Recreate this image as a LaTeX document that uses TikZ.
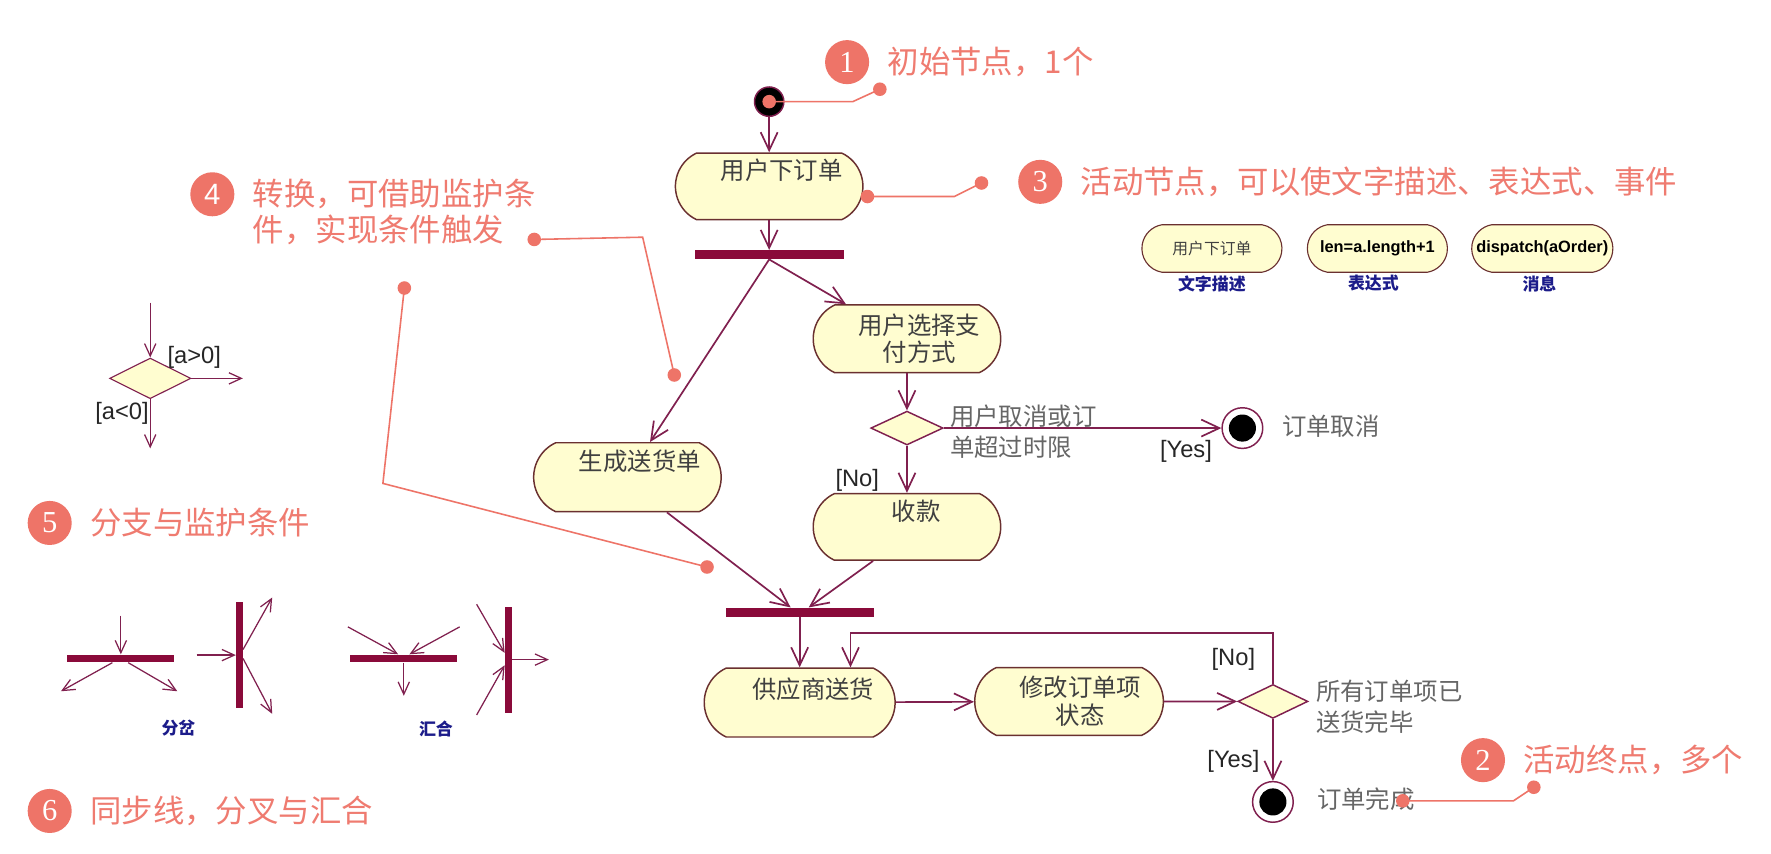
\documentclass[tikz,border=0pt]{standalone}
\usepackage{fontspec}
\setmainfont{Noto Sans CJK SC}
\newfontfamily\latinsans{Liberation Sans}
\newfontfamily\numserif{Liberation Serif}
\usetikzlibrary{arrows.meta, positioning, shapes.misc, shapes.geometric}
\definecolor{actFill}{HTML}{FFFDD0}
\definecolor{actLine}{HTML}{6A3030}
\definecolor{actText}{HTML}{404040}
\definecolor{flowLine}{HTML}{80204F}
\definecolor{barRed}{HTML}{8A0A3A}
\definecolor{noteGray}{HTML}{666666}
\definecolor{tagBlue}{HTML}{1C1C8A}
\definecolor{callRed}{HTML}{EE7468}
\definecolor{callText}{HTML}{EF7B70}
\def\pageW{1568}
\def\pageH{756}
\def\dotR{6pt}

\tikzset{
  act/.style={rounded rectangle, rounded rectangle arc length=130,
              draw=actLine, line width=1.3pt, fill=actFill,
              minimum width=166pt, minimum height=59pt, inner sep=0pt},
  actsmall/.style={act, rounded rectangle arc length=160, line width=1pt,
              minimum width=124pt, minimum height=42pt},
  acttext/.style={align=center, text=actText, inner sep=0pt,
              font=\fontsize{21.6}{24.5}\selectfont},
  syncbar/.style={fill=barRed, draw=none, inner sep=0pt,
              minimum width=132pt, minimum height=8pt},
  decision/.style={diamond, draw=flowLine, fill=actFill, line width=1.3pt,
              minimum width=64pt, minimum height=30pt, inner sep=0pt},
  startnode/.style={circle, fill=black, draw=flowLine, line width=1.3pt,
              minimum size=26pt, inner sep=0pt},
  endnode/.style={circle, draw=flowLine, fill=white, line width=1.3pt,
              minimum size=36pt, inner sep=0pt,
              path picture={\fill[black] (path picture bounding box.center) circle (12pt);}},
  flow/.style={draw=flowLine, line width=1.5pt,
              -{Straight Barb[length=16pt, width=15pt]}},
  flowthin/.style={draw=flowLine, line width=1.1pt,
              -{Straight Barb[length=11pt, width=10pt]}},
  guard/.style={font=\latinsans\fontsize{21}{24}\selectfont,
              text=black!85, inner sep=0pt},
  grayNote/.style={font=\fontsize{21.6}{27}\selectfont, text=noteGray,
              align=left, inner sep=0pt},
  blueTag/.style={font=\bfseries\fontsize{15}{18}\selectfont,
              text=tagBlue, inner sep=0pt},
  callnum/.style={circle, fill=callRed, text=white, minimum size=39pt,
              inner sep=0pt, font=\numserif\fontsize{27}{27}\selectfont},
  calltext/.style={text=callText, font=\fontsize{27.8}{32}\selectfont,
              inner sep=0pt, align=left},
  callline/.style={draw=callRed, line width=1.4pt},
}

\begin{document}
\begin{tikzpicture}[x=1pt, y=-1pt]

    % ==========================================================
    % 0. PAGE
    % ==========================================================
    \fill[white] (0,0) rectangle (\pageW,\pageH);
    \useasboundingbox (0,0) rectangle (\pageW,\pageH);

    % ==========================================================
    % 1. NAMED COORDINATES (free ends of arrows and callouts)
    % ==========================================================
    \coordinate (dxIn)    at (133,268);
    \coordinate (dxRight) at (215,335);
    \coordinate (dxDown)  at (133,397);

    \coordinate (fhIn)  at (107,545);
    \coordinate (fhL)   at (54,612);
    \coordinate (fhR)   at (157,612);
    \coordinate (fvIn)  at (174,580);
    \coordinate (fvUp)  at (241,529);
    \coordinate (fvDn)  at (241,632);

    \coordinate (jhL)   at (308,555);
    \coordinate (jhR)   at (407,555);
    \coordinate (jhOut) at (357.5,616);
    \coordinate (jvUp)  at (422,535);
    \coordinate (jvDn)  at (422,633);
    \coordinate (jvOut) at (486,584);

    \coordinate (c1bend) at (755,90);
    \coordinate (c1end)  at (779,79);
    \coordinate (c3start) at (768,174);
    \coordinate (c3bend)  at (845,174);
    \coordinate (c3end)   at (869,162);
    \coordinate (c4start) at (473,212);
    \coordinate (c4bend)  at (569,210);
    \coordinate (c4end)   at (597,332);
    \coordinate (c4bstart) at (358,255);
    \coordinate (c4bbend)  at (339,428);
    \coordinate (c4bend2)  at (626,502);
    \coordinate (c2start) at (1242,709);
    \coordinate (c2bend)  at (1340,709);
    \coordinate (c2end)   at (1358,697);

    % ==========================================================
    % 2. MAIN ACTIVITY FLOW
    % ==========================================================
    \node[startnode] (init) at (681,90) {};
    \node[act] (order) at (681,165) {};
    \node[acttext] (orderT) at ([xshift=11pt, yshift=14pt]order.center) {用户下订单};
    \node[syncbar] (forkA) at (681,225.5) {};

    \node[act, minimum height=60pt] (pay) at (803,300) {};
    \node[acttext] (payT) at ([xshift=11pt]pay.center) {用户选择支\\付方式};
    \node[act, minimum height=61pt] (ship) at (555.5,422.5) {};
    \node[acttext] (shipT) at ([xshift=11pt, yshift=14pt]ship.center) {生成送货单};

    \node[decision] (dCancel) at (803,379) {};
    \node[endnode] (endCancel) at (1100,379) {};
    \node[act] (collect) at (803,466.5) {};
    \node[acttext] (collectT) at ([xshift=8pt, yshift=14pt]collect.center) {收款};

    \node[syncbar, minimum width=131pt] (joinA) at (708,542) {};
    \node[act, minimum width=169pt, minimum height=61pt] (supply) at (708,622) {};
    \node[acttext] (supplyT) at ([xshift=12pt, yshift=12pt]supply.center) {供应商送货};
    \node[act, minimum width=167pt, minimum height=60pt] (update) at (946.5,621) {};
    \node[acttext] (updateT) at ([xshift=10pt]update.center) {修改订单项\\状态};
    \node[decision, minimum width=62pt] (dDone) at (1127,621) {};
    \node[endnode] (endDone) at (1127,710) {};

    % Transitions
    \draw[flow] (init) -- (order);
    \draw[flow] (order) -- (forkA);
    \draw[flow] (forkA.south) -- ([xshift=20pt]ship.north);
    \draw[flow] (forkA.south) -- ([xshift=-54pt]pay.north);
    \draw[flow] (pay) -- (dCancel);
    \draw[flow] (dCancel) -- (endCancel);
    \draw[flow] (dCancel) -- (collect);
    \draw[flow] ([xshift=35pt]ship.south) -- ([xshift=-8pt]joinA.north);
    \draw[flow] ([xshift=-30pt]collect.south) -- ([xshift=8pt]joinA.north);
    \draw[flow] (joinA) -- (supply);
    \draw[flow] (supply) -- (update);
    \draw[flow] (update) -- (dDone);
    \draw[flow] (dDone) -- (endDone);
    \draw[flow] (dDone.north) -- ++(0,-45) -| ([xshift=45pt]supply.north);

    % Guards and notes
    \node[grayNote, anchor=west] (cancelNote) at (841,382) {用户取消或订\\单超过时限};
    \node[guard] (yesCancel) at (1050,400) {[Yes]};
    \node[guard] (noCancel) at (759,425) {[No]};
    \node[grayNote, anchor=west] (cancelEnd) at (1135,377) {订单取消};
    \node[grayNote, anchor=west] (doneNote) at (1165,625.5) {所有订单项已\\送货完毕};
    \node[guard] (noDone) at (1092,584) {[No]};
    \node[guard] (yesDone) at (1092,674) {[Yes]};
    \node[grayNote, anchor=west] (doneEnd) at (1166,708) {订单完成};

    % ==========================================================
    % 3. ACTIVITY NODE EXAMPLES (top right)
    % ==========================================================
    \node[actsmall] (sText) at (1073,220)
        {\fontsize{14}{16}\selectfont\color{actText}用户下订单};
    \node[actsmall] (sExpr) at (1219.5,220)
        {\latinsans\bfseries\fontsize{14.5}{16}\selectfont len=a.length+1};
    \node[actsmall, minimum width=125pt] (sMsg) at (1365.5,220)
        {\latinsans\bfseries\fontsize{14.5}{16}\selectfont dispatch(aOrder)};
    \node[blueTag] (tText) at (1073,251) {文字描述};
    \node[blueTag] (tExpr) at (1216,251) {表达式};
    \node[blueTag] (tMsg) at (1363,251) {消息};

    % ==========================================================
    % 4. BRANCH EXAMPLE (left)
    % ==========================================================
    \node[decision, line width=1pt, minimum width=72pt, minimum height=36pt]
        (dEx) at (133,335) {};
    \draw[flowthin] (dxIn) -- (dEx);
    \draw[flowthin] (dEx) -- (dxRight);
    \draw[flowthin] (dEx) -- (dxDown);
    \node[guard] (gPos) at (172,316) {[a>0]};
    \node[guard] (gNeg) at (108,366) {[a<0]};

    % ==========================================================
    % 5. FORK / JOIN EXAMPLES (bottom left)
    % ==========================================================
    \node[syncbar, minimum width=95pt, minimum height=7pt] (forkH) at (106.5,583) {};
    \draw[flowthin] (fhIn) -- (fhIn |- forkH.north);
    \draw[flowthin] ([xshift=-7pt]forkH.south) -- (fhL);
    \draw[flowthin] ([xshift=7pt]forkH.south) -- (fhR);

    \node[syncbar, minimum width=6pt, minimum height=94pt] (forkV) at (212,580) {};
    \draw[flowthin] (fvIn) -- (forkV);
    \draw[flowthin] ([yshift=5pt]forkV.east) -- (fvUp);
    \draw[flowthin] ([yshift=-3pt]forkV.east) -- (fvDn);

    \node[syncbar, minimum width=95pt, minimum height=7pt] (joinH) at (357.5,583) {};
    \draw[flowthin] (jhL) -- ([xshift=-5pt]joinH.north);
    \draw[flowthin] (jhR) -- ([xshift=5pt]joinH.north);
    \draw[flowthin] (joinH) -- (jhOut);

    \node[syncbar, minimum width=6pt, minimum height=94pt] (joinV) at (450,584) {};
    \draw[flowthin] (jvUp) -- ([yshift=6pt]joinV.west);
    \draw[flowthin] (jvDn) -- ([yshift=-5pt]joinV.west);
    \draw[flowthin] (joinV) -- (jvOut);

    \node[blueTag] (tFork) at (158,645) {分岔};
    \node[blueTag] (tJoin) at (386,645) {汇合};

    % ==========================================================
    % 6. CALLOUTS
    % ==========================================================
    \node[callnum] (num1) at (750,55) {1};
    \node[calltext, right=16pt of num1] (txt1) {初始节点，1个};
    \draw[callline] (init.center) -- (c1bend) -- (c1end);
    \fill[callRed] (init.center) circle (\dotR) (c1end) circle (\dotR);

    \node[callnum] (num3) at (921,161) {3};
    \node[calltext, right=16pt of num3] (txt3) {活动节点，可以使文字描述、表达式、事件};
    \draw[callline] (c3start) -- (c3bend) -- (c3end);
    \fill[callRed] (c3start) circle (\dotR) (c3end) circle (\dotR);

    \node[callnum, font=\latinsans\fontsize{26}{26}\selectfont] (num4) at (188,172) {4};
    \node[calltext, right=16pt of num4, yshift=-16pt] (txt4)
        {转换，可借助监护条\\件，实现条件触发};
    \draw[callline] (c4start) -- (c4bend) -- (c4end);
    \fill[callRed] (c4start) circle (\dotR) (c4end) circle (\dotR);
    \draw[callline] (c4bstart) -- (c4bbend) -- (c4bend2);
    \fill[callRed] (c4bstart) circle (\dotR) (c4bend2) circle (\dotR);

    \node[callnum] (num5) at (44,463) {5};
    \node[calltext, right=16pt of num5] (txt5) {分支与监护条件};

    \node[callnum] (num6) at (44,718) {6};
    \node[calltext, right=16pt of num6] (txt6) {同步线，分叉与汇合};

    \node[callnum] (num2) at (1313,673) {2};
    \node[calltext, right=16pt of num2] (txt2) {活动终点，多个};
    \draw[callline] (c2start) -- (c2bend) -- (c2end);
    \fill[callRed] (c2start) circle (\dotR) (c2end) circle (\dotR);

\end{tikzpicture}
\end{document}
